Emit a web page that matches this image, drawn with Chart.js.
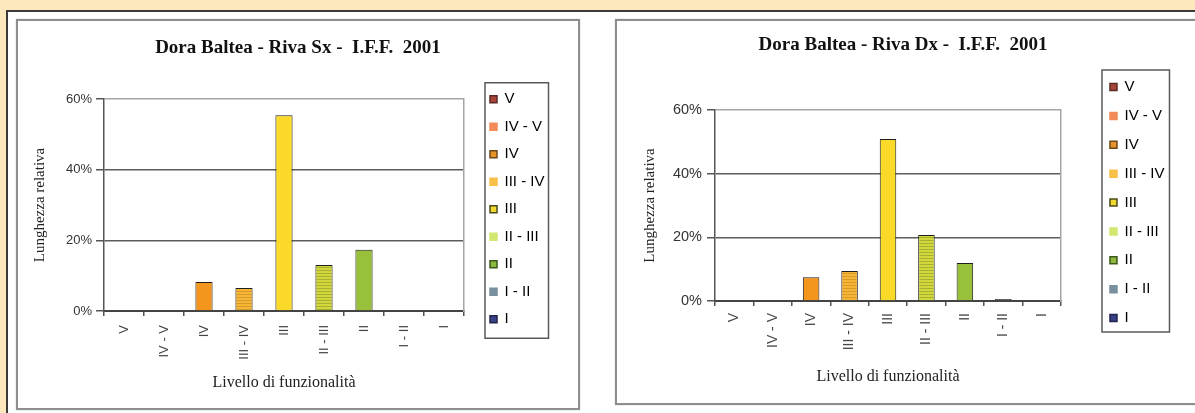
<!DOCTYPE html>
<html lang="it">
<head>
<meta charset="utf-8">
<title>Dora Baltea - I.F.F. 2001</title>
<script src="https://cdn.jsdelivr.net/npm/chart.js@4.4.1/dist/chart.umd.min.js"></script>
<style>
  html, body { margin: 0; padding: 0; background: #ffffff; }
  #page { position: relative; width: 1195px; height: 413px; background: #fde7bd; overflow: hidden; }
  #sheet { position: absolute; left: 6px; top: 10px; width: 1189px; height: 403px; background: #ffffff;
           border-left: 2px solid #3a3a3a; border-top: 2px solid #3a3a3a; box-sizing: border-box; }
  .frame { position: absolute; border: 2px solid #8e8e8e; box-shadow: 0 0 1px 0 rgba(0,0,0,0.35); background: #ffffff; }
  #frameSx { left: 16px; top: 19px; width: 560px; height: 387px; }
  #frameDx { left: 615px; top: 19px; width: 590px; height: 382px; }
  canvas { position: absolute; }
  #chartSx { left: 18px; top: 21px; }
  #chartDx { left: 617px; top: 21px; }
</style>
</head>
<body>
<div id="page">
  <div id="sheet"></div>
  <div class="frame" id="frameSx"></div>
  <div class="frame" id="frameDx"></div>
  <canvas id="chartSx" width="560" height="387"></canvas>
  <canvas id="chartDx" width="583" height="382"></canvas>
</div>
<script>
// Functionality levels (I.F.F.) and share of bank length per level, in percent
const categories = ['V', 'IV - V', 'IV', 'III - IV', 'III', 'II - III', 'II', 'I - II', 'I'];
const rivaSx = [0, 0, 8.2, 6.5, 55.4, 13.0, 17.3, 0, 0];
const rivaDx = [0, 0, 7.5, 9.4, 50.9, 20.7, 11.9, 0.6, 0];
const yTicks = [0, 20, 40, 60];
const titleSx = 'Dora Baltea - Riva Sx -  I.F.F.  2001';
const titleDx = 'Dora Baltea - Riva Dx -  I.F.F.  2001';
const xTitle = 'Livello di funzionalità';
const yTitle = 'Lunghezza relativa';

// Colours per level; intermediate levels get a striped fill
const levelColors = ['#a8453a', '#f28a5a', '#f4961e', '#f7b535', '#fbd928', '#d2d83c', '#98c03a', '#7f8e9a', '#384088'];
const levelStripes = [null, '#d8704a', null, '#d89a28', null, '#a8b030', null, '#5f6e7a', null];
const legendFills = ['#a8453a', '#f28a5a', '#e8922a', '#f8c048', '#f0d830', '#d0e870', '#90b840', '#7890a0', '#384088'];
const legendEdges = ['#5a2a22', '#f28a5a', '#6a4a1a', '#f8c048', '#4a4a1a', '#d0e870', '#3a5a1a', '#7890a0', '#20244a'];

function stripes(base, line) {
  const c = document.createElement('canvas');
  c.width = 4; c.height = 3;
  const g = c.getContext('2d');
  g.fillStyle = base; g.fillRect(0, 0, 4, 3);
  g.fillStyle = line; g.fillRect(0, 0, 4, 1);
  return g.createPattern(c, 'repeat');
}
const barFills = levelColors.map((c, i) => levelStripes[i] ? stripes(c, levelStripes[i]) : c);

// Draws the framed box around the legend entries
const legendFrame = {
  id: 'legendFrame',
  afterDraw(chart, args, o) {
    const hb = chart.legend && chart.legend.legendHitBoxes;
    if (!hb || !hb.length) return;
    const l = Math.min(...hb.map(h => h.left)) - o.left;
    const r = Math.max(...hb.map(h => h.left + h.width)) + o.right;
    const t = Math.min(...hb.map(h => h.top)) - o.top;
    const b = Math.max(...hb.map(h => h.top + h.height)) + o.bottom;
    const ctx = chart.ctx;
    ctx.save();
    ctx.strokeStyle = o.color;
    ctx.lineWidth = o.width;
    ctx.strokeRect(l, t, r - l, b - t);
    ctx.restore();
  }
};

function makeChart(id, title, values, L) {
  return new Chart(document.getElementById(id), {
    type: 'bar',
    data: {
      labels: categories,
      datasets: [{
        data: values,
        backgroundColor: barFills,
        borderColor: '#1e1e1e',
        borderWidth: 1,
        barPercentage: 0.43,
        categoryPercentage: 1
      }]
    },
    plugins: [legendFrame],
    options: {
      responsive: false,
      animation: false,
      devicePixelRatio: 1,
      layout: { padding: { left: L.padL, right: L.padR, top: 0, bottom: L.padB } },
      plugins: {
        tooltip: { enabled: false },
        title: {
          display: true,
          text: title,
          color: '#111111',
          font: { family: 'Liberation Serif', size: 19, weight: 'bold', lineHeight: 1.2 },
          padding: { top: L.titleTop, bottom: L.titleBottom }
        },
        legend: {
          display: true,
          position: 'right',
          maxWidth: L.legendW,
          labels: {
            font: { family: 'Liberation Sans', size: 15 },
            color: '#333333',
            boxWidth: 7,
            boxHeight: 7,
            padding: L.legendPad,
            generateLabels: () => categories.map((c, i) => ({
              text: c,
              fillStyle: legendFills[i],
              strokeStyle: legendEdges[i],
              lineWidth: 1.5,
              hidden: false,
              index: i,
              datasetIndex: 0
            }))
          }
        },
        legendFrame: { left: L.frameL, right: L.frameR, top: L.frameT, bottom: L.frameB, color: '#5a5a5a', width: 1.5 }
      },
      scales: {
        x: {
          type: 'category',
          position: 'bottom',
          afterFit: s => { s.height = L.xHeight; },
          grid: { display: true, drawOnChartArea: false, drawTicks: true, offset: true, tickLength: 5, color: '#555555', lineWidth: 1.5 },
          border: { display: true, color: '#444444', width: 2 },
          ticks: {
            autoSkip: false,
            minRotation: 90,
            maxRotation: 90,
            padding: L.xTickPad,
            color: '#444444',
            font: { family: 'Liberation Sans', size: L.xTickSize }
          },
          title: {
            display: true,
            text: xTitle,
            color: '#222222',
            font: { family: 'Liberation Serif', size: 16, lineHeight: 1.2 },
            padding: { top: 0, bottom: L.xTitlePad }
          }
        },
        y: {
          type: 'linear',
          position: 'left',
          min: 0,
          max: 60,
          afterFit: s => { s.width = L.yWidth; },
          afterBuildTicks: s => { s.ticks = yTicks.map(v => ({ value: v })); },
          grid: {
            color: c => (c.tick && c.tick.value === 60) ? '#a6a6a6' : '#5c5c5c',
            lineWidth: 1.5,
            drawTicks: true,
            tickLength: 8,
            tickColor: '#555555'
          },
          border: { display: true, color: '#555555', width: 1.5 },
          ticks: {
            padding: L.yTickPad,
            color: '#333333',
            font: { family: 'Liberation Sans', size: L.yTickSize },
            callback: v => v + '%'
          },
          title: {
            display: true,
            text: yTitle,
            color: '#222222',
            font: { family: 'Liberation Serif', size: 15, lineHeight: 1.2 },
            padding: { top: L.yTitlePad, bottom: 0 }
          }
        },
        // right edge of the plot area, keeps the legend clear of the bars
        edge: {
          type: 'linear',
          position: 'right',
          display: true,
          afterFit: s => { s.width = L.gapW; },
          grid: { display: false, drawTicks: false },
          ticks: { display: false },
          border: { display: true, color: '#a6a6a6', width: 1.5 }
        }
      }
    }
  });
}

makeChart('chartSx', titleSx, rivaSx, {
  padL: 32.5, padR: 32.5, padB: 10.5,
  titleTop: 15.6, titleBottom: 39.6,
  legendW: 68, legendPad: 12.5, gapW: 13.5,
  frameL: 5, frameR: 4, frameT: 9, frameB: 11.5,
  xHeight: 86.5, xTickPad: 9, xTickSize: 13, xTitlePad: 4.9,
  yWidth: 53.5, yTickPad: 4, yTickSize: 13, yTitlePad: -19.2
});

makeChart('chartDx', titleDx, rivaDx, {
  padL: 22.9, padR: 33.9, padB: 19,
  titleTop: 12.6, titleBottom: 53.6,
  legendW: 70, legendPad: 13.875, gapW: 35.1,
  frameL: 8, frameR: 5, frameT: 9.5, frameB: 6.5,
  xHeight: 83, xTickPad: 7, xTickSize: 14, xTitlePad: -2.6,
  yWidth: 75.1, yTickPad: 5, yTickSize: 14.5, yTitlePad: 1.1
});
</script>
</body>
</html>
